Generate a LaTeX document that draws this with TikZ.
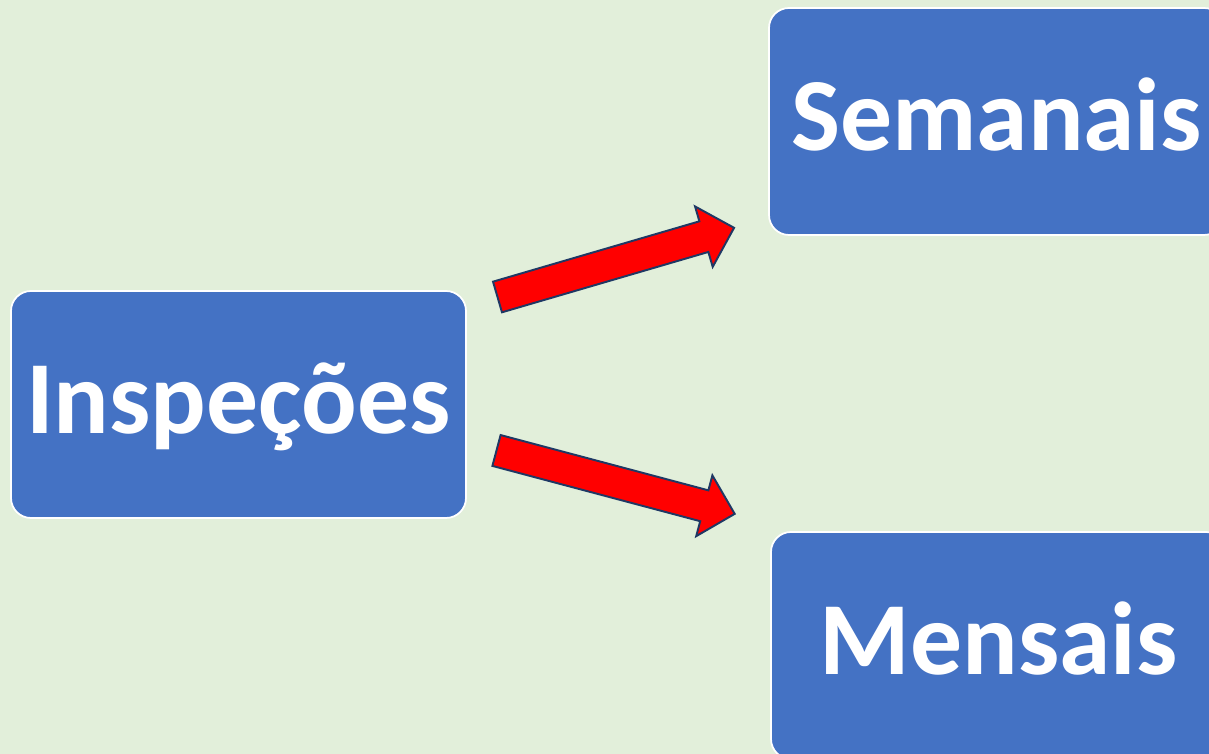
\documentclass[tikz,border=0pt]{standalone}
\usepackage{fontspec}
\setmainfont{Carlito}
\usetikzlibrary{shapes.arrows}
\definecolor{bggreen}{HTML}{E2EFDA}
\definecolor{boxblue}{HTML}{4472C4}
\definecolor{arrowline}{HTML}{1F3864}

\begin{document}
\begin{tikzpicture}[
    box/.style={draw=white, line width=1pt, fill=boxblue, rounded corners=0.4cm,
        minimum width=9.1cm, minimum height=4.54cm, inner sep=0.1cm, text=white,
        font=\fontsize{59}{60}\selectfont\bfseries, text height=1.34cm, text depth=0.16cm},
    bigarrow/.style={single arrow, draw=arrowline, line width=1.1pt, fill=red,
        minimum height=4.93cm, inner sep=0.3cm, outer sep=0pt,
        single arrow head extend=0.31cm, anchor=tail}]
    \useasboundingbox (0,0) rectangle (24.18,15.08);
    \clip (0,0) rectangle (24.18,15.08);
    \fill[bggreen] (0,0) rectangle (24.18,15.08);
    % boxes
    \node[box] (insp) at (4.77,6.99) {Inspeções};
    \node[box] (sem) at (19.93,12.65) {Semanais};
    \node[box] (mens) at (19.97,2.17) {Mensais};
    % arrows
    \node[bigarrow, rotate=16.3] (tosem) at (9.95,9.14) {};
    \node[bigarrow, rotate=-14.9] (tomens) at (9.93,6.07) {};
\end{tikzpicture}
\end{document}
